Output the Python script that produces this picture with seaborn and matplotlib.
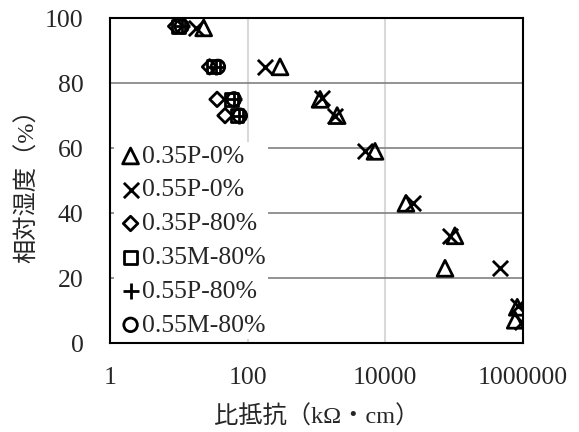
import numpy as np
import pandas as pd
import matplotlib
matplotlib.use('Agg')
import matplotlib.pyplot as plt
import seaborn as sns

# data: relative humidity (%) vs resistivity (kOhm cm)
rh_0 = [97, 85, 75, 70, 59, 43, 33, 23, 11, 7]
res_035P_0 = [23, 296, 1130, 2000, 7100, 20000, 103000, 74000, 830000, 775000]
rh_055P_0 = [97, 85, 75.5, 70, 59, 43, 33, 23, 11.5, 6.5]
res_055P_0 = [18, 179, 1200, 1870, 5100, 25300, 87000, 466000, 850000, 970000]

rh_80 = [97.5, 85, 75, 70]
res_035P_80 = [9, 28, 36, 47]
res_035M_80 = [10, 32, 59, 70]
res_055P_80 = [11, 35, 63, 75]
res_055M_80 = [11, 37, 63, 77]

labels = ['0.35P-0%', '0.55P-0%', '0.35P-80%', '0.35M-80%', '0.55P-80%', '0.55M-80%']
markers = ['^', 'x', 'D', 's', '+', 'o']

series = [
    (res_035P_0, rh_0),
    (res_055P_0, rh_055P_0),
    (res_035P_80, rh_80),
    (res_035M_80, rh_80),
    (res_055P_80, rh_80),
    (res_055M_80, rh_80),
]

sns.set_style('white')
plt.rcParams['font.family'] = ['Liberation Serif', 'Noto Sans CJK JP', 'DejaVu Sans']

fig, ax = plt.subplots(figsize=(5.79, 4.32), dpi=100)
fig.subplots_adjust(left=0.19, right=0.903, top=0.958, bottom=0.206)

sizes = {'^': 130, 'x': 120, 'D': 55, 's': 85, '+': 130, 'o': 95}
for (xs, ys), lab, m in zip(series, labels, markers):
    df = pd.DataFrame({'res': xs, 'rh': ys})
    if m in ('x', '+'):
        sns.scatterplot(data=df, x='res', y='rh', marker=m, color='black',
                        s=sizes[m], linewidth=2, ax=ax, label=lab, zorder=3)
    else:
        sns.scatterplot(data=df, x='res', y='rh', marker=m, facecolor='none',
                        edgecolor='black', s=sizes[m], linewidth=2, ax=ax,
                        label=lab, zorder=3)

ax.set_xscale('log')
ax.set_xlim(1, 1e6)
ax.set_ylim(0, 100)
ax.set_xticks([1, 100, 10000, 1000000])
ax.set_xticklabels(['1', '100', '10000', '1000000'])
ax.minorticks_off()
ax.set_yticks([0, 20, 40, 60, 80, 100])
ax.tick_params(labelsize=18.5, length=0)
ax.tick_params(axis='y', pad=19)
ax.tick_params(axis='x', pad=17)

for y in [20, 40, 60, 80]:
    ax.axhline(y, color='#808080', lw=1.2, zorder=1)
for x in [100, 10000]:
    ax.axvline(x, color='#d9d9d9', lw=1.5, zorder=0)

for s in ax.spines.values():
    s.set_color('black')
    s.set_linewidth(1.5)

ax.set_xlabel('比抵抗（kΩ・cm）', fontsize=17.5, labelpad=12)
ax.set_ylabel('相対湿度（%）', fontsize=17.5, labelpad=4)

leg = ax.legend(loc='lower left', fontsize=18.5, frameon=True, handletextpad=-0.1,
                handlelength=1.1, borderaxespad=0.15, labelspacing=0.42,
                borderpad=0.1, fancybox=False)
leg.get_frame().set_facecolor('white')
leg.get_frame().set_edgecolor('none')
leg.get_frame().set_alpha(1)
leg.set_zorder(2.5)

fig.savefig('out.png', dpi=100)
